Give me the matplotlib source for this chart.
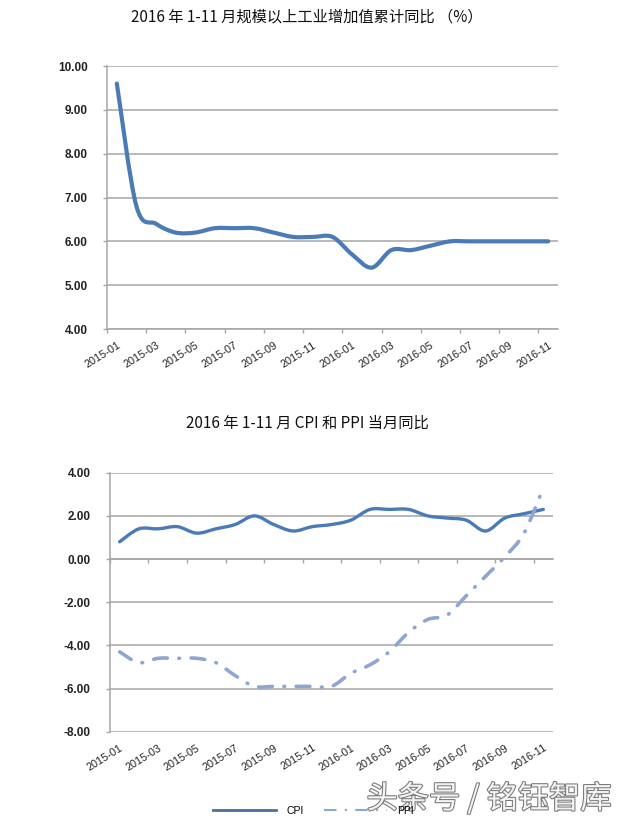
import numpy as np
import matplotlib
matplotlib.use('Agg')
import matplotlib.pyplot as plt
from matplotlib.path import Path
from matplotlib.patches import PathPatch
from matplotlib.lines import Line2D
import matplotlib.patheffects as pe

plt.rcParams['font.family'] = ['Liberation Sans', 'DejaVu Sans']

months = ['2015-01', '2015-02', '2015-03', '2015-04', '2015-05', '2015-06',
          '2015-07', '2015-08', '2015-09', '2015-10', '2015-11', '2015-12',
          '2016-01', '2016-02', '2016-03', '2016-04', '2016-05', '2016-06',
          '2016-07', '2016-08', '2016-09', '2016-10', '2016-11']
iva = [9.6, 6.8, 6.4, 6.2, 6.2, 6.3, 6.3, 6.3, 6.2, 6.1, 6.1, 6.1,
       5.7, 5.4, 5.8, 5.8, 5.9, 6.0, 6.0, 6.0, 6.0, 6.0, 6.0]
cpi = [0.8, 1.4, 1.4, 1.5, 1.2, 1.4, 1.6, 2.0, 1.6, 1.3, 1.5, 1.6,
       1.8, 2.3, 2.3, 2.3, 2.0, 1.9, 1.8, 1.3, 1.9, 2.1, 2.3]
ppi = [-4.3, -4.8, -4.6, -4.6, -4.6, -4.8, -5.4, -5.9, -5.9, -5.9, -5.9, -5.9,
       -5.3, -4.9, -4.3, -3.4, -2.8, -2.6, -1.7, -0.8, 0.1, 1.2, 3.3]

title1 = '2016 年 1-11 月规模以上工业增加值累计同比 （%）'
title2 = '2016 年 1-11 月 CPI 和 PPI 当月同比'
watermark = '头条号 / 铭钰智库'

cjk = ['Noto Sans CJK SC', 'DejaVu Sans']
grid_c = '#a6a6a6'
blue = '#4a7bb7'
light = '#8ea6d1'


def smooth_path(y):
    # smoothed line like excel (catmull-rom as bezier)
    x = np.arange(len(y), dtype=float)
    y = np.asarray(y, dtype=float)
    n = len(y)
    verts = [(x[0], y[0])]
    codes = [Path.MOVETO]
    for i in range(n - 1):
        a = max(i - 1, 0)
        d = min(i + 2, n - 1)
        c1 = (x[i] + (x[i + 1] - x[a]) / 6.0, y[i] + (y[i + 1] - y[a]) / 6.0)
        c2 = (x[i + 1] - (x[d] - x[i]) / 6.0, y[i + 1] - (y[d] - y[i]) / 6.0)
        verts += [c1, c2, (x[i + 1], y[i + 1])]
        codes += [Path.CURVE4] * 3
    return Path(verts, codes)


def style_axes(ax, ymin, ymax, step):
    n = len(months)
    ax.set_xlim(-0.5, n - 0.5)
    ax.set_ylim(ymin, ymax)
    ax.set_yticks(np.arange(ymin, ymax + 0.01, step))
    ax.set_yticklabels(['%.2f' % v for v in np.arange(ymin, ymax + 0.01, step)],
                       fontsize=8.5, fontweight='bold', color='#222222')
    ax.yaxis.grid(True, color=grid_c, linewidth=1.1)
    ax.set_axisbelow(True)
    for s in ['top', 'right']:
        ax.spines[s].set_visible(False)
    for s in ['left', 'bottom']:
        ax.spines[s].set_color(grid_c)
        ax.spines[s].set_linewidth(1.1)
    ax.tick_params(axis='y', length=3, color=grid_c, width=1, pad=11)
    ax.set_xticks(np.arange(-0.5, n - 1, 2))
    ax.set_xticklabels([])
    ax.tick_params(axis='x', length=3, color=grid_c, width=1)


def x_labels(axis):
    idx = list(range(0, len(months), 2))
    axis.set_ticks(idx, minor=False)
    axis.set_ticklabels([months[i] for i in idx], rotation=32, ha='right',
                        va='top', rotation_mode='anchor', fontsize=7.8,
                        color='#222222')


fig = plt.figure(figsize=(6.27, 8.25), dpi=100)

# top chart
ax1 = fig.add_axes([0.1707, 0.6012, 0.7193, 0.3188])
style_axes(ax1, 4, 10, 1)
ax1.add_patch(PathPatch(smooth_path(iva), fill=False, edgecolor=blue,
                        linewidth=3.0, capstyle='round', joinstyle='round'))
sec1 = ax1.secondary_xaxis('bottom')
sec1.spines['bottom'].set_visible(False)
sec1.tick_params(length=0, pad=8)
x_labels(sec1.xaxis)
fig.text(0.49, 0.979, title1, ha='center', va='center', fontsize=11,
         family=cjk, color='#111111')

# bottom chart
ax2 = fig.add_axes([0.1754, 0.1131, 0.7065, 0.3139])
style_axes(ax2, -8, 4, 2)
ax2.spines['bottom'].set_position(('data', 0))
ax2.add_patch(PathPatch(smooth_path(cpi), fill=False, edgecolor=blue,
                        linewidth=2.4, capstyle='round', joinstyle='round'))
ax2.add_patch(PathPatch(smooth_path(ppi), fill=False, edgecolor=light,
                        linewidth=2.6, linestyle=(0, (3.8, 3.2, 0.2, 3.2)),
                        capstyle='round', joinstyle='round'))
sec2 = ax2.secondary_xaxis(0.0)
sec2.spines['bottom'].set_visible(False)
sec2.tick_params(length=0, pad=8)
x_labels(sec2.xaxis)
fig.text(0.49, 0.487, title2, ha='center', va='center', fontsize=11,
         family=cjk, color='#111111')

handles = [Line2D([], [], color='#4d6f95', linewidth=2.0),
           Line2D([], [], color=light, linewidth=1.5,
                  linestyle=(0, (6, 4, 1, 4)))]
fig.legend(handles, ['CPI', 'PPI'], loc='center', ncol=2,
           bbox_to_anchor=(0.5, 0.017), frameon=False, fontsize=7.5,
           handlelength=6.0, columnspacing=2.0, handletextpad=1.0)

fig.text(0.78, 0.032, watermark, ha='center', va='center', fontsize=22.5,
         family=cjk, color='white', alpha=0.9,
         path_effects=[pe.withStroke(linewidth=1.5, foreground='#6a6a6a')])

fig.savefig('out.png', dpi=100)
